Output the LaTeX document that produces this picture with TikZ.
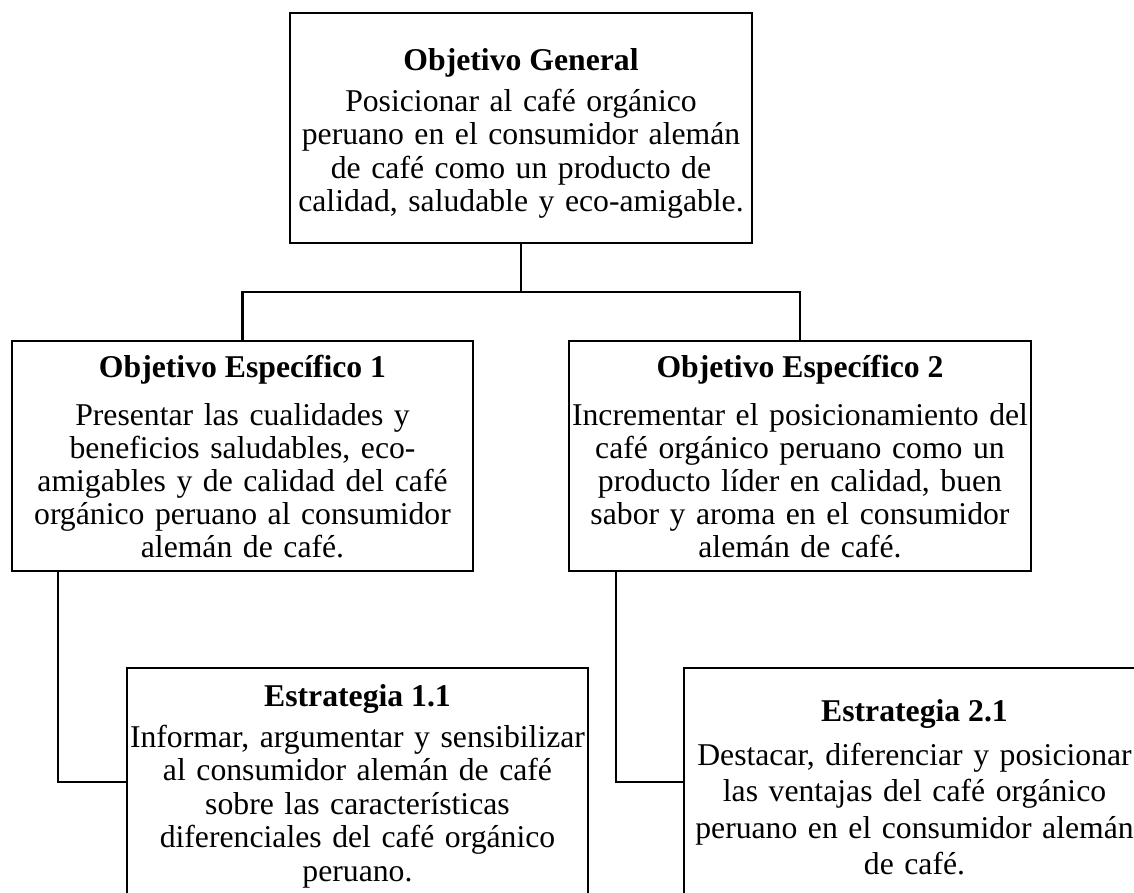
\documentclass[tikz,border=0pt]{standalone}
\usepackage{fontspec}
\setmainfont{Liberation Serif}
\begin{document}
\begin{tikzpicture}[x=1pt,y=-1pt,
  box/.style={draw=black, line width=2.4pt, rectangle, inner sep=0pt, fill=none},
  conn/.style={draw=black, line width=2.4pt, line cap=rect},
  head/.style={anchor=base, inner sep=0pt, font=\fontsize{31.7}{33.7}\bfseries\selectfont},
  body/.style={anchor=base, inner sep=0pt, align=center, text width=560pt,
               font=\fontsize{31.7}{#1}\selectfont},
  body/.default=33.6
]
\useasboundingbox (0,0) rectangle (1134,892);
\clip (0,0) rectangle (1134,892);

% boxes
\node[box, minimum width=462pt, minimum height=230pt] (og)  at (521,128) {};
\node[box, minimum width=461pt, minimum height=230pt] (oe1) at (242.5,456) {};
\node[box, minimum width=462pt, minimum height=230pt] (oe2) at (800,456) {};
\node[box, minimum width=461pt, minimum height=340pt] (e11) at (357.5,838) {};
\node[box, minimum width=461pt, minimum height=340pt] (e21) at (914.5,838) {};

% texts
\node[head] (ogh) at (521,70) {Objetivo General};
\node[body] (ogb) at (521,111) {Posicionar al café orgánico\\peruano en el consumidor alemán\\de café como un producto de\\calidad, saludable y eco-amigable.};

\node[head] (oe1h) at (242.5,377) {Objetivo Específico 1};
\node[body=33] (oe1b) at (242.5,425) {Presentar las cualidades y\\beneficios saludables, eco-\\amigables y de calidad del café\\orgánico peruano al consumidor\\alemán de café.};

\node[head] (oe2h) at (800,377) {Objetivo Específico 2};
\node[body=33] (oe2b) at (800,425) {Incrementar el posicionamiento del\\café orgánico peruano como un\\producto líder en calidad, buen\\sabor y aroma en el consumidor\\alemán de café.};

\node[head] (e11h) at (357.5,706) {Estrategia 1.1};
\node[body=33.5] (e11b) at (357.5,747) {Informar, argumentar y sensibilizar\\al consumidor alemán de café\\sobre las características\\diferenciales del café orgánico\\peruano.};

\node[head] (e21h) at (914.5,721) {Estrategia 2.1};
\node[body=36.5] (e21b) at (914.5,765) {Destacar, diferenciar y posicionar\\las ventajas del café orgánico\\peruano en el consumidor alemán\\de café.};

% connectors
\coordinate (j) at (521,292);
\coordinate (c1) at (58,782);
\coordinate (c2) at (616,782);
\draw[conn] (og.south) -- (j);
\draw[conn] (oe1.north) |- (j) -| (oe2.north);
\draw[conn] (oe1.south -| c1) -- (c1) -- (c1 -| e11.west);
\draw[conn] (oe2.south -| c2) -- (c2) -- (c2 -| e21.west);
\end{tikzpicture}
\end{document}
